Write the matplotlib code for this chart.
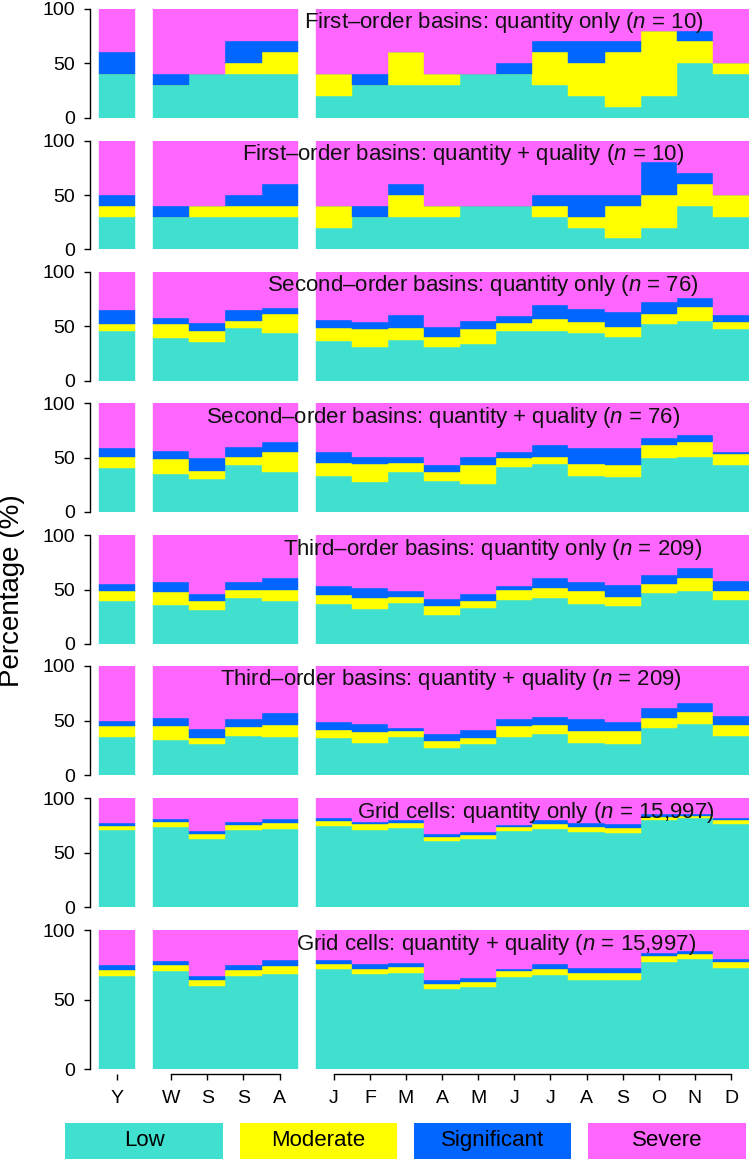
import numpy as np
import matplotlib
matplotlib.use("Agg")
import matplotlib.pyplot as plt

plt.rcParams.update({
    "font.family": ["Liberation Sans", "DejaVu Sans"],
    "mathtext.fontset": "custom",
    "mathtext.rm": "Liberation Sans",
    "mathtext.it": "Liberation Sans:italic",
    "axes.linewidth": 1.0,
})

# ---- data -------------------------------------------------------------
periods = ["Y", "W", "S", "S", "A",
           "J", "F", "M", "A", "M", "J", "J", "A", "S", "O", "N", "D"]
classes = ["Low", "Moderate", "Significant", "Severe"]
colors = ["#40E0D0", "#FFFF00", "#0066FF", "#FF66FF"]

titles = [
    "First\u2013order basins: quantity only ($\\it{n}$ = 10)",
    "First\u2013order basins: quantity + quality ($\\it{n}$ = 10)",
    "Second\u2013order basins: quantity only ($\\it{n}$ = 76)",
    "Second\u2013order basins: quantity + quality ($\\it{n}$ = 76)",
    "Third\u2013order basins: quantity only ($\\it{n}$ = 209)",
    "Third\u2013order basins: quantity + quality ($\\it{n}$ = 209)",
    "Grid cells: quantity only ($\\it{n}$ = 15,997)",
    "Grid cells: quantity + quality ($\\it{n}$ = 15,997)",
]

# share of units (%) per class; Severe is the remainder up to 100
low = [
    [40, 30, 40, 40, 40, 20, 30, 30, 30, 40, 40, 30, 20, 10, 20, 50, 40],
    [30, 30, 30, 30, 30, 20, 30, 30, 30, 40, 40, 30, 20, 10, 20, 40, 30],
    [46, 39, 35.5, 48, 44, 36, 31, 37.5, 31, 33.5, 45.5, 45.5, 44, 40, 52, 55, 47],
    [40.5, 35, 30, 43, 36.5, 33.5, 27.5, 36.5, 28.5, 26, 41.5, 44.5, 33.5, 32.5, 49.5, 51, 43],
    [39.5, 36, 31, 42, 39.5, 37, 32, 38, 26.5, 33, 40.5, 42, 37, 34.5, 46.5, 49, 40.5],
    [35, 32, 28, 36, 35, 33.5, 29.5, 35, 25, 28.5, 35, 37.5, 29.5, 28, 43, 47, 36],
    [70.5, 73.5, 63, 70.5, 72, 74.5, 71, 72.5, 60.5, 62.5, 69.5, 71.5, 69, 68, 80, 81.5, 76],
    [67, 70.5, 60, 67, 68.5, 72, 68.5, 69.5, 58, 59.5, 66.5, 68, 64.5, 64, 77, 79.5, 73],
]
moderate = [
    [0, 0, 0, 10, 20, 20, 0, 30, 10, 0, 0, 30, 30, 50, 60, 20, 10],
    [10, 0, 10, 10, 10, 20, 0, 20, 10, 0, 0, 10, 10, 30, 30, 20, 20],
    [6, 13, 10, 7, 17, 12, 16, 11, 9, 13.5, 7, 11, 9.5, 9.5, 9.5, 13, 6.5],
    [10.5, 13.5, 7.5, 8, 18.5, 12, 17, 9, 8, 17, 8, 6.5, 11, 10.5, 12, 13.5, 10.5],
    [9, 11.5, 8.5, 8, 10.5, 8, 10, 5.5, 8, 6.5, 9.5, 9.5, 11.5, 9, 9, 11.5, 8],
    [9.5, 12.5, 5.5, 8, 10.5, 8, 9.5, 5.5, 6, 5, 9.5, 8.5, 11, 12, 9.5, 10.5, 9.5],
    [4, 4.5, 4, 5, 5.5, 4.5, 5, 4.5, 4, 4, 4, 4.5, 4.5, 4.5, 3, 2.5, 4],
    [4.5, 4.5, 4.5, 4.5, 6, 4, 4, 4, 3.5, 3.5, 4, 4.5, 5, 5.5, 4.5, 3.5, 4],
]
significant = [
    [20, 10, 0, 20, 10, 0, 10, 0, 0, 0, 10, 10, 20, 10, 0, 10, 0],
    [10, 10, 0, 10, 20, 0, 10, 10, 0, 0, 0, 10, 20, 10, 30, 10, 0],
    [13, 5.5, 7, 10, 6, 8, 7, 11.5, 9.5, 8, 6.5, 13, 12, 13.5, 10.5, 8, 6.5],
    [8, 8, 12, 9, 9.5, 9.5, 6.5, 5.5, 6.5, 8, 5.5, 10.5, 14.5, 16, 6.5, 6.5, 1.5],
    [7, 9, 6.5, 6.5, 10.5, 8, 9.5, 5.5, 7, 6.5, 3, 9, 8.5, 10.5, 8, 9, 9.5],
    [5, 8, 8.5, 7, 11.5, 7.5, 8, 2.5, 6.5, 8, 6.5, 7, 11, 8.5, 9, 8.5, 8.5],
    [3, 2.5, 3, 2.5, 3.5, 2.5, 2, 3, 2.5, 2.5, 2, 4, 4, 4, 3, 2, 2],
    [3.5, 3, 2.5, 3.5, 4, 2.5, 3, 3, 3, 3, 2, 3.5, 3.5, 3.5, 2.5, 2, 2.5],
]

# ---- layout (pixels of the 749 x 1159 canvas) ---------------------------
W, H = 749, 1159
LEFT = 90
panel_px = [(8.7, 117.7), (140.7, 249.3), (271.7, 380.7), (403.3, 512.0),
            (535.0, 644.0), (666.0, 775.0), (798.3, 907.0), (930.3, 1069.3)]
title_x = [10.72, 9.58, 10.14, 9.03, 10.39, 9.25, 11.58, 10.5]

# x positions: annual bar, gap, 4 seasons, gap, 12 months
xpos = np.array([0] + [1.5, 2.5, 3.5, 4.5] + list(np.arange(6, 18)), dtype=float)
groups = [(0, 1), (1, 5), (5, 17)]

fig = plt.figure(figsize=(W / 100, H / 100), dpi=100)

for i, (top, bot) in enumerate(panel_px):
    h = bot - top
    ax = fig.add_axes([LEFT / W, 1 - bot / H, (W - LEFT) / W, h / H])
    lo = np.array(low[i], float)
    mo = np.array(moderate[i], float)
    si = np.array(significant[i], float)
    base = np.zeros_like(lo)
    for vals, c in zip([lo, mo, si, 100 - lo - mo - si], colors):
        ax.bar(xpos, vals, bottom=base, width=1.0, color=c,
               edgecolor=c, linewidth=0.3, zorder=2)
        base = base + vals

    ax.set_xlim(-0.75, 17.5)
    ax.set_ylim(0, 100)
    for s in ["top", "right"]:
        ax.spines[s].set_visible(False)
    ax.spines["left"].set_bounds(0, 100)
    ax.set_yticks([0, 50, 100])
    ax.tick_params(axis="y", direction="out", length=4.3, width=1.0,
                   labelsize=14, pad=6.5)

    ax.text(title_x[i], 100 * (1 - 19.5 / h), titles[i], ha="center",
            va="baseline", fontsize=16, color="#111111", zorder=5)

    if i < len(panel_px) - 1:
        ax.spines["bottom"].set_visible(False)
        ax.set_xticks([])
    else:
        off = 5.0
        ax.spines["bottom"].set_position(("outward", off * 0.72))
        ax.spines["bottom"].set_visible(False)
        ax.set_xticks(xpos)
        ax.set_xticklabels(periods)
        ax.tick_params(axis="x", direction="out", length=4.5, width=1.0,
                       labelsize=14, pad=7)
        yb = -off / h
        for a, b in groups:
            if b - a > 1:
                ax.plot([xpos[a], xpos[b - 1]], [yb, yb], color="black",
                        lw=1.0, transform=ax.get_xaxis_transform(),
                        clip_on=False)

fig.text(12 / W, 1 - 591 / H, "Percentage (%)", rotation=90,
         ha="center", va="center", fontsize=20)

# legend boxes along the bottom
lax = fig.add_axes([0, 0, 1, (H - 1122.7) / H])
lax.set_xlim(0, W)
lax.set_ylim(0, 1)
lax.axis("off")
centers = 144 + 174.3 * np.arange(len(classes))
lax.bar(centers, 1.0, width=157.5, color=colors, linewidth=0)
for cx, name in zip(centers, classes):
    lax.text(cx, 0.5, name, ha="center", va="center", fontsize=16)

fig.savefig("out.png", dpi=100)
